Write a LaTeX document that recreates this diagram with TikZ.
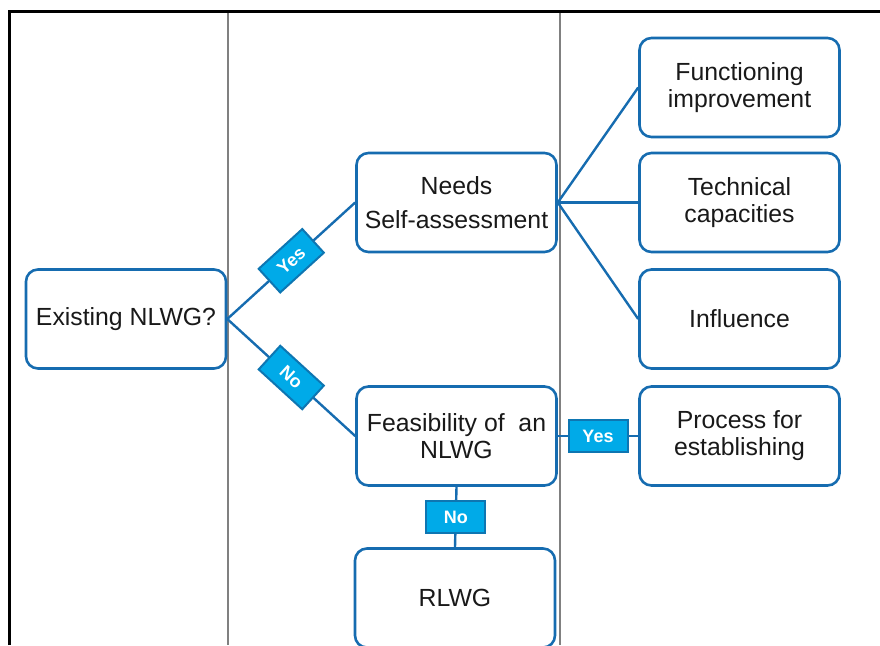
\documentclass[tikz,border=0pt]{standalone}
\usepackage{fontspec}
\setmainfont{Liberation Sans}
\definecolor{boxblue}{RGB}{22,108,176}
\definecolor{labcyan}{RGB}{0,170,232}
\definecolor{labedge}{RGB}{14,118,178}

\begin{document}
\begin{tikzpicture}[x=1pt,y=-1pt,
	stage/.style={draw=boxblue,line width=2.6pt,rounded corners=12pt,minimum width=200pt,minimum height=99pt,align=center,text=black!90,font=\fontsize{24.8}{27}\selectfont},
	link/.style={draw=boxblue,line width=2.4pt},
	answer/.style={fill=labcyan,draw=labedge,line width=2pt,text=white,font=\fontsize{18}{20}\selectfont\bfseries,minimum width=59pt,minimum height=32pt,inner sep=0pt}]
			\useasboundingbox (0,0) rectangle (880,645);
			% frame and column rules
			\draw[gray,line width=1.8pt] (228,11) -- (228,645);
			\draw[gray,line width=1.8pt] (560,11) -- (560,645);
			\draw[line width=3pt] (9,645) -- (9,11) -- (880,11);
			% boxes
			\node[stage] (exist) at (126,319) {Existing NLWG?};
			\node[stage] (needs) at (456.5,202.5) {Needs\\[7pt]Self-assessment};
			\node[stage] (feas) at (456.5,436) {Feasibility of~ an\\NLWG};
			\node[stage] (rlwg) at (455,598) {RLWG};
			\node[stage] (func) at (739.5,87.5) {Functioning\\improvement};
			\node[stage] (tech) at (739.5,202.5) {Technical\\capacities};
			\node[stage] (infl) at (739.5,319) {Influence};
			\node[stage] (proc) at (739.5,436) {Process for\\establishing};
			% decisions
			\draw[link] (exist.east) -- node[answer,sloped,midway] {Yes} (needs.west);
			\draw[link] (exist.east) -- node[answer,sloped,midway] {No} (feas.west);
			\draw[link] (feas.east) -- node[answer,midway] {Yes} (proc.west);
			\draw[link] (feas.south) -- node[answer,midway] {No} (rlwg.north);
			% fan out of the self-assessment
			\draw[link] (needs.east) -- (func.west);
			\draw[link] (needs.east) -- (tech.west);
			\draw[link] (needs.east) -- (infl.west);
\end{tikzpicture}
\end{document}
